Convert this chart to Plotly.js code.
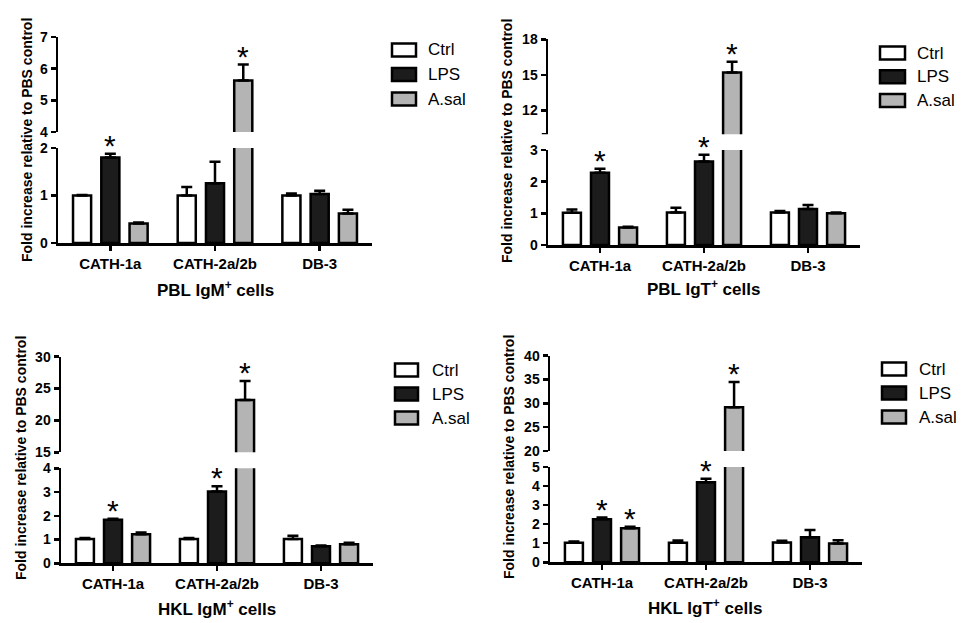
<!DOCTYPE html>
<html><head><meta charset="utf-8">
<script src="https://cdn.plot.ly/plotly-3.0.1.min.js"></script>
<style>html,body{margin:0;padding:0;background:#fff;} #chart{width:965px;height:623px;}</style>
</head><body><div id="chart"></div>
<script>
const W = 965, H = 623;
const FONT = 'Liberation Sans, Arial, Helvetica, sans-serif';

const categories = ['CATH-1a', 'CATH-2a/2b', 'DB-3'];
const seriesNames = ['Ctrl', 'LPS', 'A.sal'];
const seriesColors = ['#ffffff', '#1c1c1c', '#b4b4b4'];

// PBL IgM+ cells
const pblIgM_Ctrl = [1.00, 1.00, 1.00];
const pblIgM_LPS  = [1.80, 1.26, 1.03];
const pblIgM_Asal = [0.41, 5.63, 0.62];
const pblIgM_CtrlErr = [0.01, 0.18, 0.04];
const pblIgM_LPSErr  = [0.08, 0.45, 0.07];
const pblIgM_AsalErr = [0.02, 0.50, 0.08];
const pblIgM_CtrlSig = [0, 0, 0];
const pblIgM_LPSSig  = [1, 0, 0];
const pblIgM_AsalSig = [0, 1, 0];

// PBL IgT+ cells
const pblIgT_Ctrl = [1.02, 1.03, 1.03];
const pblIgT_LPS  = [2.28, 2.64, 1.14];
const pblIgT_Asal = [0.55, 15.2, 1.00];
const pblIgT_CtrlErr = [0.10, 0.15, 0.04];
const pblIgT_LPSErr  = [0.13, 0.21, 0.12];
const pblIgT_AsalErr = [0.03, 0.90, 0.03];
const pblIgT_CtrlSig = [0, 0, 0];
const pblIgT_LPSSig  = [1, 1, 0];
const pblIgT_AsalSig = [0, 1, 0];

// HKL IgM+ cells
const hklIgM_Ctrl = [1.02, 1.02, 1.02];
const hklIgM_LPS  = [1.83, 3.02, 0.72];
const hklIgM_Asal = [1.22, 23.2, 0.80];
const hklIgM_CtrlErr = [0.05, 0.05, 0.14];
const hklIgM_LPSErr  = [0.05, 0.22, 0.03];
const hklIgM_AsalErr = [0.08, 3.00, 0.06];
const hklIgM_CtrlSig = [0, 0, 0];
const hklIgM_LPSSig  = [1, 1, 0];
const hklIgM_AsalSig = [0, 1, 0];

// HKL IgT+ cells
const hklIgT_Ctrl = [1.03, 1.03, 1.04];
const hklIgT_LPS  = [2.26, 4.20, 1.31];
const hklIgT_Asal = [1.78, 29.2, 0.99];
const hklIgT_CtrlErr = [0.06, 0.12, 0.09];
const hklIgT_LPSErr  = [0.09, 0.19, 0.38];
const hklIgT_AsalErr = [0.08, 5.30, 0.17];
const hklIgT_CtrlSig = [0, 0, 0];
const hklIgT_LPSSig  = [1, 1, 0];
const hklIgT_AsalSig = [1, 1, 0];

// axis tick values (broken axes: lower / upper segment)
const pblIgM_lowerTicks = [0, 1, 2];
const pblIgM_upperTicks = [4, 5, 6, 7];
const pblIgT_lowerTicks = [0, 1, 2, 3];
const pblIgT_upperTicks = [12, 15, 18];
const hklIgM_lowerTicks = [0, 1, 2, 3, 4];
const hklIgM_upperTicks = [15, 20, 25, 30];
const hklIgT_lowerTicks = [0, 1, 2, 3, 4, 5];
const hklIgT_upperTicks = [20, 25, 30, 35, 40];

const yTitle = 'Fold increase relative to PBS control';

const panels = [
  { title: 'PBL IgM<sup>+</sup> cells',
    values: [pblIgM_Ctrl, pblIgM_LPS, pblIgM_Asal],
    errs: [pblIgM_CtrlErr, pblIgM_LPSErr, pblIgM_AsalErr],
    sig: [pblIgM_CtrlSig, pblIgM_LPSSig, pblIgM_AsalSig],
    lowerRange: [0, 2], lowerTicks: pblIgM_lowerTicks,
    upperRange: [4, 7], upperTicks: pblIgM_upperTicks,
    geo: { x: [58, 372], lower: [148, 243], upper: [37, 132],
           yt: [27, 140], xt: [215, 289],
           leg: { b: [392, 416], y0: 50, dy: 24.5, tx: 426 } } },
  { title: 'PBL IgT<sup>+</sup> cells',
    values: [pblIgT_Ctrl, pblIgT_LPS, pblIgT_Asal],
    errs: [pblIgT_CtrlErr, pblIgT_LPSErr, pblIgT_AsalErr],
    sig: [pblIgT_CtrlSig, pblIgT_LPSSig, pblIgT_AsalSig],
    lowerRange: [0, 3], lowerTicks: pblIgT_lowerTicks,
    upperRange: [10, 18], upperTicks: pblIgT_upperTicks,
    geo: { x: [548, 860], lower: [150, 245], upper: [39.3, 134.3],
           yt: [507, 141], xt: [703, 288],
           leg: { b: [880, 905], y0: 53, dy: 23.7, tx: 915 } } },
  { title: 'HKL IgM<sup>+</sup> cells',
    values: [hklIgM_Ctrl, hklIgM_LPS, hklIgM_Asal],
    errs: [hklIgM_CtrlErr, hklIgM_LPSErr, hklIgM_AsalErr],
    sig: [hklIgM_CtrlSig, hklIgM_LPSSig, hklIgM_AsalSig],
    lowerRange: [0, 4], lowerTicks: hklIgM_lowerTicks,
    upperRange: [15, 30], upperTicks: hklIgM_upperTicks,
    geo: { x: [61, 373], lower: [468.3, 563.3], upper: [356.7, 452.3],
           yt: [21, 458], xt: [217, 608],
           leg: { b: [395, 418], y0: 370, dy: 24, tx: 430 } } },
  { title: 'HKL IgT<sup>+</sup> cells',
    values: [hklIgT_Ctrl, hklIgT_LPS, hklIgT_Asal],
    errs: [hklIgT_CtrlErr, hklIgT_LPSErr, hklIgT_AsalErr],
    sig: [hklIgT_CtrlSig, hklIgT_LPSSig, hklIgT_AsalSig],
    lowerRange: [0, 5], lowerTicks: hklIgT_lowerTicks,
    upperRange: [20, 40], upperTicks: hklIgT_upperTicks,
    geo: { x: [550, 862], lower: [467, 562.3], upper: [355.7, 451],
           yt: [509, 457], xt: [705, 607],
           leg: { b: [882, 906], y0: 369, dy: 24, tx: 917 } } }
];

const BARGAP = 0.19, BARGROUPGAP = 0.36;
const LW = 2.5;
const TICKLEN = 5;

const traces = [];
const layout = {
  width: W, height: H,
  margin: { l: 0, r: 0, t: 0, b: 0 },
  paper_bgcolor: '#fff', plot_bgcolor: 'rgba(0,0,0,0)',
  barmode: 'group', bargap: BARGAP, bargroupgap: BARGROUPGAP,
  showlegend: false, hovermode: false,
  font: { family: FONT, color: '#000' },
  annotations: [], shapes: []
};

const px = v => v / W;
const py = v => 1 - v / H;

function yAxisDef(domainPx, range, ticks, xName) {
  return {
    domain: [py(domainPx[1]), py(domainPx[0])],
    anchor: xName, range: range, fixedrange: true,
    tickmode: 'array', tickvals: ticks,
    showline: true, linewidth: LW, linecolor: '#000',
    ticks: 'outside', ticklen: TICKLEN, tickwidth: LW, tickcolor: '#000',
    showgrid: false, zeroline: false,
    tickfont: { family: FONT, size: 14, weight: 'bold', color: '#000' }
  };
}

panels.forEach((p, i) => {
  const xName = 'x' + (i + 1);
  const yLo = 'y' + (2 * i + 1);
  const yUp = 'y' + (2 * i + 2);
  const axKey = n => n.replace('x', 'xaxis').replace('y', 'yaxis');
  const g = p.geo;

  layout[axKey(xName)] = {
    domain: [px(g.x[0]), px(g.x[1])], anchor: yLo, type: 'category',
    range: [-0.5, 2.5], fixedrange: true,
    showline: true, linewidth: LW, linecolor: '#000',
    ticks: 'outside', ticklen: TICKLEN, tickwidth: LW, tickcolor: '#000',
    showgrid: false, zeroline: false,
    tickfont: { family: FONT, size: 15, weight: 'bold', color: '#000' }
  };
  layout[axKey(yLo)] = yAxisDef(g.lower, p.lowerRange, p.lowerTicks, xName);
  layout[axKey(yUp)] = yAxisDef(g.upper, p.upperRange, p.upperTicks, xName);

  // unlabeled end tick at the bottom of the upper segment when not among the labeled ticks
  if (p.upperTicks.indexOf(p.upperRange[0]) < 0) {
    layout.shapes.push({
      type: 'line', xref: 'paper', yref: yUp,
      x0: px(g.x[0] - TICKLEN - LW / 2), x1: px(g.x[0]),
      y0: p.upperRange[0], y1: p.upperRange[0],
      line: { color: '#000', width: LW }
    });
  }

  seriesNames.forEach((s, j) => {
    [yLo, yUp].forEach(yName => {
      traces.push({
        type: 'bar', name: s, x: categories, y: p.values[j],
        xaxis: xName, yaxis: yName,
        marker: { color: seriesColors[j], line: { color: '#000', width: LW } },
        error_y: { type: 'data', symmetric: false, array: p.errs[j],
                   arrayminus: p.errs[j].map(() => 0),
                   color: '#000', thickness: LW, width: 5.5 },
        hoverinfo: 'skip', showlegend: false
      });
    });
  });

  // significance asterisks
  const slotPx = (g.x[1] - g.x[0]) / categories.length * (1 - BARGAP) / seriesNames.length;
  seriesNames.forEach((s, j) => {
    categories.forEach((c, k) => {
      if (!p.sig[j][k]) return;
      const top = p.values[j][k] + p.errs[j][k];
      layout.annotations.push({
        text: '*', x: c, y: top, xref: xName,
        yref: top <= p.lowerRange[1] ? yLo : yUp,
        xshift: (j - (seriesNames.length - 1) / 2) * slotPx,
        yanchor: 'bottom', yshift: -10, showarrow: false,
        font: { family: FONT, size: 30, color: '#000' }
      });
    });
  });

  // axis titles
  layout.annotations.push({
    text: yTitle, xref: 'paper', yref: 'paper', x: px(g.yt[0]), y: py(g.yt[1]),
    textangle: -90, showarrow: false, xanchor: 'center', yanchor: 'middle',
    font: { family: FONT, size: 14, weight: 'bold', color: '#000' }
  });
  layout.annotations.push({
    text: p.title, xref: 'paper', yref: 'paper', x: px(g.xt[0]), y: py(g.xt[1]),
    showarrow: false, xanchor: 'center', yanchor: 'middle',
    font: { family: FONT, size: 17, weight: 'bold', color: '#000' }
  });

  // legend
  seriesNames.forEach((s, j) => {
    const cy = g.leg.y0 + j * g.leg.dy;
    layout.shapes.push({
      type: 'rect', xref: 'paper', yref: 'paper',
      x0: px(g.leg.b[0]), x1: px(g.leg.b[1]), y0: py(cy + 6.5), y1: py(cy - 6.5),
      fillcolor: seriesColors[j], line: { color: '#000', width: LW }
    });
    layout.annotations.push({
      text: s, xref: 'paper', yref: 'paper', x: px(g.leg.tx), y: py(cy),
      xanchor: 'left', yanchor: 'middle', showarrow: false,
      font: { family: FONT, size: 17, color: '#000' }
    });
  });
});

Plotly.newPlot('chart', traces, layout, { staticPlot: true, displayModeBar: false });
</script>
</body></html>
